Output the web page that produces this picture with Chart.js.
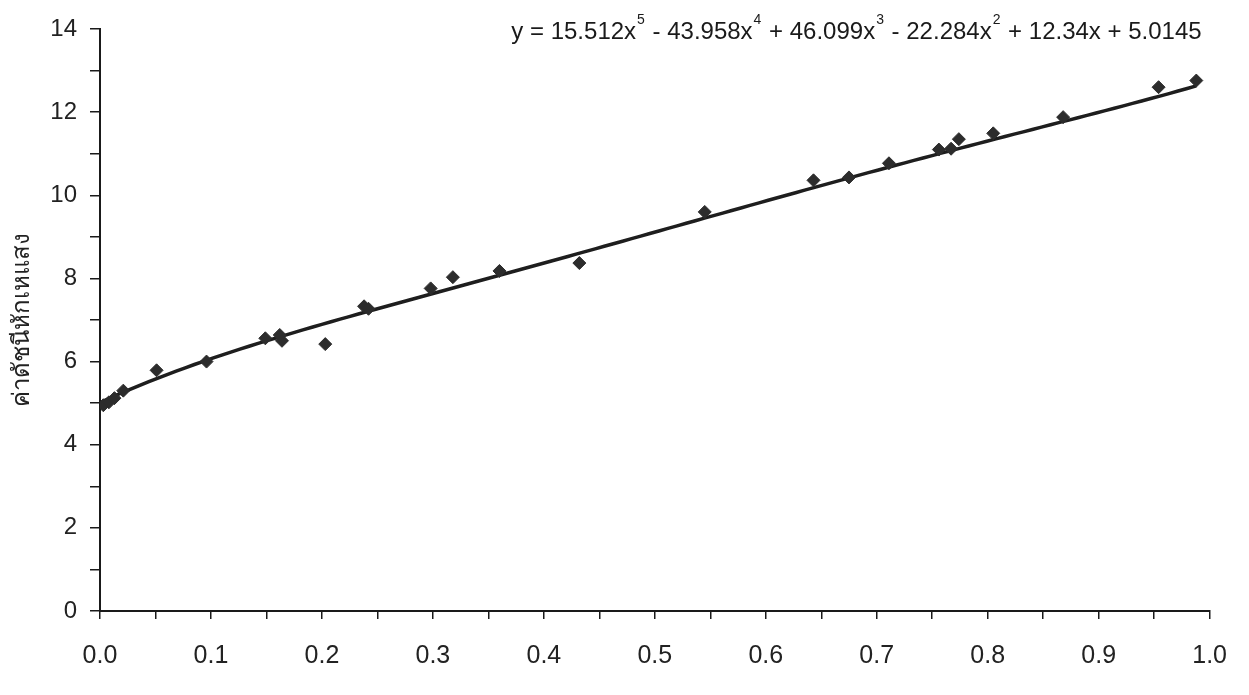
<!DOCTYPE html>
<html lang="th">
<head>
<meta charset="utf-8">
<title>ค่าดัชนีหักเหแสง</title>
<script src="https://cdn.jsdelivr.net/npm/chart.js@4.4.1/dist/chart.umd.min.js"></script>
<style>
  html, body { margin: 0; padding: 0; background: #ffffff; }
  #wrap { width: 1249px; height: 695px; position: relative; }
</style>
</head>
<body>
<div id="wrap"><canvas id="chart"></canvas></div>
<script>
// Measured samples: composition (x) and refractive index (y)
const sampleX = [0.003, 0.008, 0.013, 0.021, 0.051, 0.096, 0.149, 0.162, 0.164, 0.203,
                 0.238, 0.242, 0.298, 0.318, 0.360, 0.432, 0.545, 0.643, 0.675, 0.711,
                 0.756, 0.767, 0.774, 0.805, 0.868, 0.954, 0.988];
const sampleY = [4.95, 5.02, 5.12, 5.30, 5.79, 6.00, 6.56, 6.64, 6.50, 6.42,
                 7.33, 7.27, 7.76, 8.03, 8.18, 8.37, 9.60, 10.36, 10.43, 10.77,
                 11.10, 11.12, 11.35, 11.49, 11.88, 12.60, 12.76];

// Fifth-order polynomial fit, highest power first (x^5 ... x^0)
const fitCoefficients = [15.512, -43.958, 46.099, -22.284, 12.34, 5.0145];

// Axis settings
const yAxisTitle = 'ค่าดัชนีหักเหแสง';
const xRange = [0, 1];
const yRange = [0, 14];

const FONT = "'Liberation Sans', Arial, Helvetica, sans-serif";
const INK = '#1a1a1a';

function polyAt(x) {
  let v = 0;
  for (const c of fitCoefficients) v = v * x + c;
  return v;
}

// Trend curve spanning the sampled range
const trendPoints = [];
{
  const x0 = Math.min(...sampleX), x1 = Math.max(...sampleX);
  const n = 120;
  for (let i = 0; i <= n; i++) {
    const x = x0 + (x1 - x0) * i / n;
    trendPoints.push({ x: x, y: polyAt(x) });
  }
}

const samplePoints = sampleX.map((x, i) => ({ x: x, y: sampleY[i] }));

// Draws the fitted equation with superscript exponents
const equationLabel = {
  id: 'equationLabel',
  afterDraw(chart) {
    const ctx = chart.ctx;
    const area = chart.chartArea;
    const base = 24, sup = 14;
    const deg = fitCoefficients.length - 1;
    const parts = [{ t: 'y = ', s: false }];
    fitCoefficients.forEach((c, i) => {
      const p = deg - i;
      let txt = '';
      if (i > 0) txt += (c < 0 ? ' - ' : ' + ');
      else if (c < 0) txt += '-';
      txt += String(Math.abs(c));
      if (p >= 1) txt += 'x';
      parts.push({ t: txt, s: false });
      if (p >= 2) parts.push({ t: String(p), s: true });
    });
    ctx.save();
    ctx.fillStyle = INK;
    ctx.textBaseline = 'alphabetic';
    let total = 0;
    parts.forEach(pt => {
      ctx.font = (pt.s ? sup : base) + 'px ' + FONT;
      pt.w = ctx.measureText(pt.t).width + (pt.s ? 2 : 0);
      total += pt.w;
    });
    let x = area.right - 8 - total;
    const yBase = 39;
    parts.forEach(pt => {
      ctx.font = (pt.s ? sup : base) + 'px ' + FONT;
      ctx.fillText(pt.t, x + (pt.s ? 1 : 0), pt.s ? yBase - 15 : yBase);
      x += pt.w;
    });
    ctx.restore();
  }
};

new Chart(document.getElementById('chart'), {
  type: 'scatter',
  data: {
    datasets: [
      {
        label: 'trend',
        data: trendPoints,
        showLine: true,
        borderColor: '#1e1e1e',
        borderWidth: 3.5,
        pointRadius: 0,
        pointHoverRadius: 0,
        tension: 0,
        order: 2
      },
      {
        label: 'samples',
        data: samplePoints,
        pointStyle: 'rectRot',
        pointRadius: 6.5,
        pointHoverRadius: 6.5,
        backgroundColor: '#2c2c2c',
        borderColor: '#2c2c2c',
        borderWidth: 1,
        order: 1
      }
    ]
  },
  options: {
    responsive: true,
    maintainAspectRatio: false,
    animation: false,
    layout: { padding: { top: 29, right: 33, bottom: 0, left: 0 } },
    plugins: {
      legend: { display: false },
      tooltip: { enabled: false }
    },
    scales: {
      x: {
        type: 'linear',
        min: xRange[0],
        max: xRange[1],
        afterFit(scale) { scale.height = 84; },
        grid: {
          display: true,
          drawOnChartArea: false,
          drawTicks: true,
          tickLength: 8,
          color: INK,
          lineWidth: 1.5
        },
        border: { display: true, color: INK, width: 2 },
        ticks: {
          stepSize: 0.05,
          autoSkip: false,
          maxRotation: 0,
          padding: 22,
          color: '#222',
          font: { family: FONT, size: 25 },
          callback(v) {
            const k = Math.round(v * 100);
            return k % 10 === 0 ? (k / 100).toFixed(1) : '';
          }
        }
      },
      y: {
        type: 'linear',
        min: yRange[0],
        max: yRange[1],
        afterFit(scale) { scale.width = 100; },
        grid: {
          display: true,
          drawOnChartArea: false,
          drawTicks: true,
          tickLength: 10,
          color: INK,
          lineWidth: 1.5
        },
        border: { display: true, color: INK, width: 2 },
        ticks: {
          stepSize: 1,
          autoSkip: false,
          padding: 13,
          color: '#222',
          font: { family: FONT, size: 24 },
          callback(v) {
            return v % 2 === 0 ? String(v) : '';
          }
        },
        title: {
          display: true,
          text: yAxisTitle,
          color: '#222',
          font: { family: FONT, size: 24 },
          padding: { top: 8, bottom: 0 }
        }
      }
    }
  },
  plugins: [equationLabel]
});
</script>
</body>
</html>
